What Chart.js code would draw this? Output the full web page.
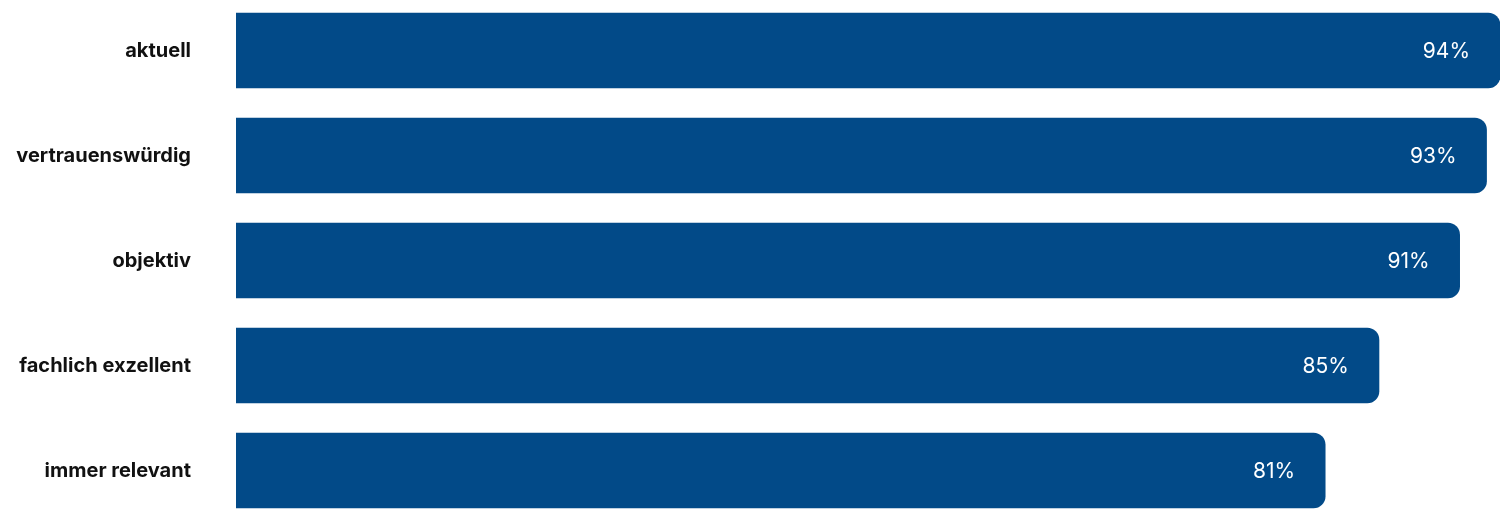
<!DOCTYPE html>
<html>
<head>
<meta charset="utf-8">
<script src="https://cdn.jsdelivr.net/npm/chart.js@4"></script>
<style>
  html, body { margin: 0; padding: 0; background: #fff; overflow: hidden; }
  #bars { display: block; margin-top: -2px; }
</style>
</head>
<body>
<canvas id="bars" width="1506" height="525"></canvas>
<script>
var categories = ['aktuell', 'vertrauenswürdig', 'objektiv', 'fachlich exzellent', 'immer relevant'];
var shares = [94, 93, 91, 85, 81];
var valueLabels = ['94%', '93%', '91%', '85%', '81%'];

// draws the percent label inside the right end of each bar
var valueText = {
  id: 'valueText',
  afterDatasetsDraw: function(chart) {
    var ctx = chart.ctx;
    var meta = chart.getDatasetMeta(0);
    ctx.save();
    ctx.fillStyle = '#ffffff';
    ctx.font = '400 21px Inter, "Open Sans", sans-serif';
    ctx.textAlign = 'right';
    ctx.textBaseline = 'middle';
    meta.data.forEach(function(bar, i) {
      ctx.fillText(valueLabels[i], bar.x - 30, bar.y + 1);
    });
    ctx.restore();
  }
};

var ctx = document.getElementById('bars');
new Chart(ctx, {
  type: 'bar',
  data: {
    labels: categories,
    datasets: [{
      data: shares,
      backgroundColor: '#024a88',
      borderRadius: { topRight: 12, bottomRight: 12 },
      borderSkipped: false,
      barThickness: 75
    }]
  },
  options: {
    indexAxis: 'y',
    responsive: false,
    animation: false,
    layout: { padding: { left: 0, right: 6, top: 0, bottom: 0 } },
    plugins: { legend: { display: false }, tooltip: { enabled: false } },
    scales: {
      x: { display: false, min: 0, max: 94 },
      y: {
        grid: { display: false, drawTicks: false },
        border: { display: false },
        afterFit: function(axis) {
          axis.width = 236;
          // tick padding would otherwise also pad the top and bottom
          axis.paddingTop = 0;
          axis.paddingBottom = 0;
        },
        ticks: {
          color: '#111111',
          padding: 45,
          font: { family: 'Inter, "Open Sans", sans-serif', size: 20, weight: '700' }
        }
      }
    }
  },
  plugins: [valueText]
});
</script>
</body>
</html>
